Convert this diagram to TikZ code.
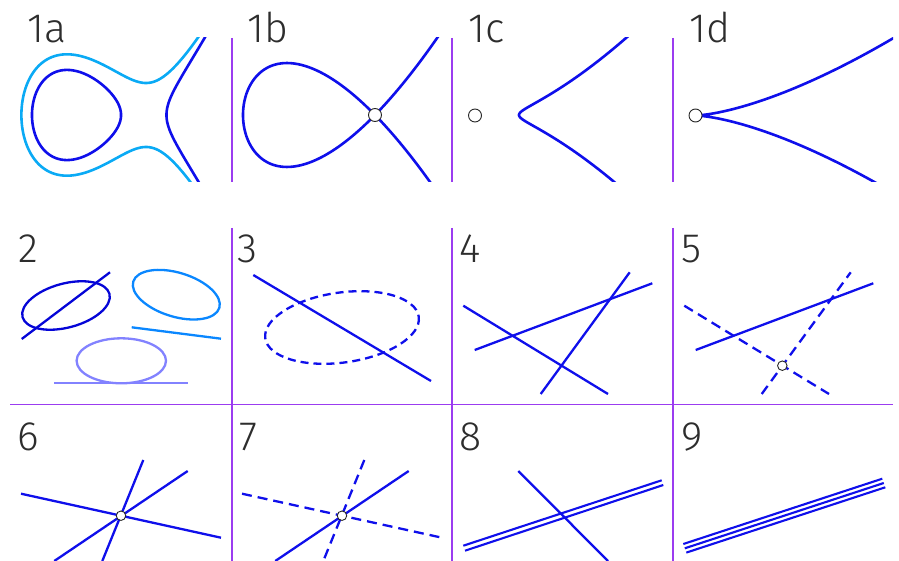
\documentclass[tikz,border=0pt]{standalone}
\usepackage{fontspec}
\newfontfamily\labfont{Fira Sans Light}
\definecolor{cblue}{RGB}{15,15,235}
\definecolor{cdark}{RGB}{5,5,215}
\definecolor{clight}{RGB}{10,170,245}
\definecolor{cmid}{RGB}{10,135,255}
\definecolor{cpale}{RGB}{130,130,255}
\definecolor{cpurple}{RGB}{155,60,240}
\definecolor{labgray}{RGB}{45,45,45}
\tikzset{
  curve/.style={line width=2.6pt, draw=cblue, line join=round},
  thin curve/.style={line width=2.3pt, draw=cblue},
  divider/.style={line width=1.4pt, draw=cpurple},
  pt/.style={circle, draw=black!85, fill=white, line width=0.9pt, inner sep=0pt, minimum size=13pt},
  spt/.style={pt, minimum size=9.5pt},
  lab/.style={anchor=base west, inner sep=0pt, text=labgray, font=\labfont\fontsize{41}{41}\selectfont},
  dsha/.style={dash pattern=on 8pt off 5pt},
  dshb/.style={dash pattern=on 10pt off 6pt}
}
\begin{document}
\begin{tikzpicture}[x=1pt,y=-1pt]
\path[use as bounding box] (0,0) rectangle (899,561);
% dividers
\draw[divider] (232,38) -- (232,182);
\draw[divider] (452,38) -- (452,182);
\draw[divider] (673,38) -- (673,182);
\draw[divider] (232,228) -- (232,561);
\draw[divider] (452,228) -- (452,561);
\draw[divider] (673,228) -- (673,561);
\draw[divider] (10,404.5) -- (893,404.5);
% labels
\node[lab] (l1a) at (27,42.5) {1a};
\node[lab] (l1b) at (247,42.5) {1b};
\node[lab] (l1c) at (468,42.5) {1c};
\node[lab] (l1d) at (689,42.5) {1d};
\node[lab] (l2) at (18,262.3) {2};
\node[lab] (l3) at (237.5,262.3) {3};
\node[lab] (l4) at (459,262.3) {4};
\node[lab] (l5) at (681.5,262.3) {5};
\node[lab] (l6) at (17,450.5) {6};
\node[lab] (l7) at (239,450.5) {7};
\node[lab] (l8) at (459.5,450.5) {8};
\node[lab] (l9) at (681.5,450.5) {9};
% ---- 1a
\begin{scope}
\clip (0,38) rectangle (232,182);
\begin{scope}[shift={(146,115)}, xscale=118.5, yscale=-134]
\draw[curve, draw=clight] plot[domain=-1.3:1.3, samples=301, variable=\s]
  ({-1.0515+\s*\s}, {(\s<0?-1:1)*sqrt(max(0,(-1.0515+\s*\s)^3+(-1.0515+\s*\s)^2+0.057))});
\draw[curve] plot[domain=0:360, samples=181, variable=\t]
  ({-0.5864-0.3758*cos(\t)}, {(sin(\t)<0?-1:1)*sqrt(max(0,(-0.5864-0.3758*cos(\t))^3+(-0.5864-0.3758*cos(\t))^2-0.035))}) -- cycle;
\draw[curve] plot[domain=-0.62:0.62, samples=201, variable=\s]
  ({0.17275+\s*\s}, {(\s<0?-1:1)*sqrt(max(0,(0.17275+\s*\s)^3+(0.17275+\s*\s)^2-0.035))});
\end{scope}
\end{scope}
% ---- 1b
\begin{scope}
\clip (232,38) rectangle (452,182);
\begin{scope}[shift={(375,115)}, xscale=132, yscale=-135]
\draw[curve] plot[domain=-1.25:1.25, samples=201, variable=\t] ({\t*\t-1}, {\t*(\t*\t-1)});
\end{scope}
\end{scope}
\node[pt] (n1b) at (375,115) {};
% ---- 1c
\begin{scope}
\clip (452,38) rectangle (673,182);
\draw[curve] plot[domain=-11:11, samples=221, variable=\s] ({519+\s*\s}, {115-0.0493*\s*(44+\s*\s)});
\end{scope}
\node[pt] (n1c) at (475,115.5) {};
% ---- 1d
\begin{scope}
\clip (673,38) rectangle (893,182);
\draw[curve] plot[domain=-14.5:14.5, samples=221, variable=\s] ({695.5+\s*\s}, {115.5-0.0278*\s*\s*\s});
\end{scope}
\node[pt] (n1d) at (695.5,115.5) {};
% ---- 2
\draw[thin curve, draw=cdark, rotate around={15:(66,305.5)}] (66,305.5) ellipse [x radius=45, y radius=22];
\coordinate (a2) at (21.7,339);
\coordinate (b2) at (110,272.3);
\draw[thin curve, draw=cdark] (a2) -- (b2);
\draw[thin curve, draw=cmid, rotate around={-17:(176.3,294.7)}] (176.3,294.7) ellipse [x radius=45, y radius=22];
\coordinate (c2) at (131.7,327.3);
\coordinate (d2) at (221,338.7);
\draw[thin curve, draw=cmid] (c2) -- (d2);
\draw[thin curve, draw=cpale] (121.3,360.8) ellipse [x radius=44.7, y radius=22.5];
\coordinate (e2) at (54,383);
\coordinate (f2) at (188.3,383);
\draw[thin curve, draw=cpale] (e2) -- (f2);
% ---- 3
\draw[thin curve, dsha, rotate around={8:(342,327.5)}] (342,327.5) ellipse [x radius=77.5, y radius=35];
\coordinate (a3) at (253.3,275);
\coordinate (b3) at (431,381);
\draw[thin curve] (a3) -- (b3);
% ---- 4
\coordinate (a4) at (463.3,305.7); \coordinate (b4) at (608,394);
\coordinate (c4) at (474.7,350);   \coordinate (d4) at (652.3,283.3);
\coordinate (e4) at (540.7,394);   \coordinate (f4) at (629.7,272.3);
\draw[thin curve] (a4) -- (b4);
\draw[thin curve] (c4) -- (d4);
\draw[thin curve] (e4) -- (f4);
% ---- 5
\coordinate (a5) at (684.3,305.7); \coordinate (b5) at (829,394);
\coordinate (c5) at (695.7,350);   \coordinate (d5) at (873.3,283.3);
\coordinate (e5) at (761.7,394);   \coordinate (f5) at (850.7,272.3);
\draw[thin curve, dshb] (a5) -- (b5);
\draw[thin curve] (c5) -- (d5);
\draw[thin curve, dshb] (e5) -- (f5);
\node[spt] (n5) at (782.3,365.7) {};
% ---- 6
\coordinate (a6) at (21,493.7);  \coordinate (b6) at (221,537.7);
\coordinate (c6) at (54.3,561);  \coordinate (d6) at (187.7,471);
\coordinate (e6) at (102.3,561); \coordinate (f6) at (143.3,460);
\draw[thin curve] (a6) -- (b6);
\draw[thin curve] (c6) -- (d6);
\draw[thin curve] (e6) -- (f6);
\node[spt] (n6) at (121,515.7) {};
% ---- 7
\coordinate (a7) at (242,493.7);  \coordinate (b7) at (442,537.7);
\coordinate (c7) at (275.3,561);  \coordinate (d7) at (408.7,471);
\coordinate (e7) at (323.3,561);  \coordinate (f7) at (364.3,460);
\draw[thin curve, dshb] (a7) -- (b7);
\draw[thin curve] (c7) -- (d7);
\draw[thin curve, dshb] (f7) -- (e7);
\node[spt] (n7) at (342,515.7) {};
% ---- 8
\coordinate (a8) at (463.3,545.7); \coordinate (b8) at (661.7,480.3);
\coordinate (c8) at (465,550.7);   \coordinate (d8) at (663.3,485);
\coordinate (e8) at (518.3,471);   \coordinate (f8) at (608,561);
\draw[thin curve, line width=2.1pt] (a8) -- (b8);
\draw[thin curve, line width=2.1pt] (c8) -- (d8);
\draw[thin curve] (e8) -- (f8);
% ---- 9
\coordinate (a9) at (683.3,544);   \coordinate (b9) at (882.3,478.7);
\coordinate (c9) at (684.8,548.3); \coordinate (d9) at (883.8,483);
\coordinate (e9) at (686.3,552.6); \coordinate (f9) at (885.3,487.3);
\draw[thin curve, line width=2.1pt] (a9) -- (b9);
\draw[thin curve, line width=2.1pt] (c9) -- (d9);
\draw[thin curve, line width=2.1pt] (e9) -- (f9);
\end{tikzpicture}
\end{document}
